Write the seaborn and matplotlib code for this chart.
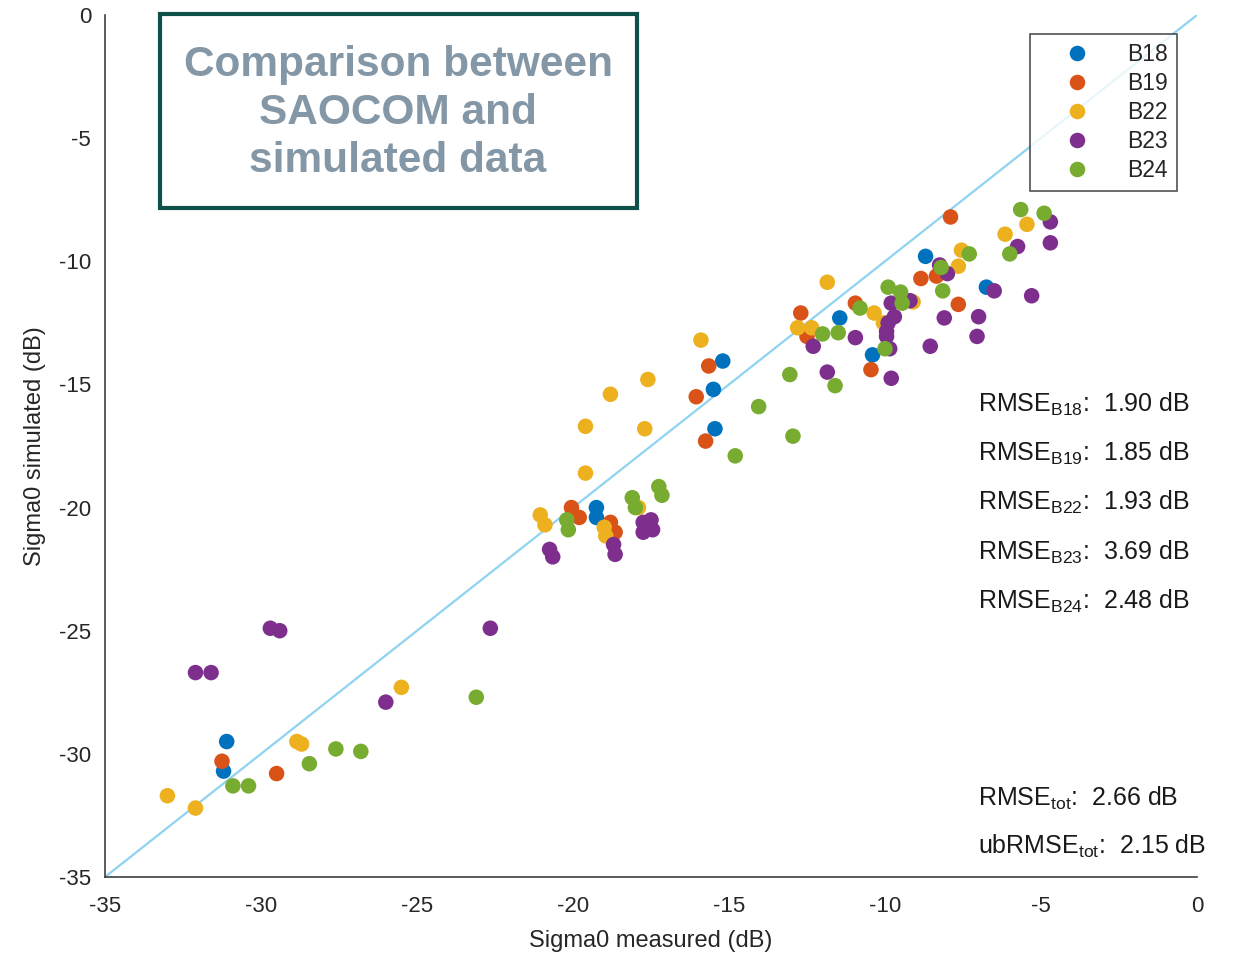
import numpy as np
import pandas as pd
import matplotlib
matplotlib.use("Agg")
import matplotlib.pyplot as plt
from matplotlib.patches import Rectangle
import seaborn as sns

# values (dB)
b18_meas = [-31.1, -31.2, -15.2, -15.5, -15.45, -19.25, -19.25, -11.45, -10.4, -8.7, -6.75]
b18_sim = [-29.5, -30.7, -14.05, -15.2, -16.8, -20.0, -20.4, -12.3, -13.8, -9.8, -11.05]

b19_meas = [-31.25, -29.5, -15.65, -16.05, -15.75, -20.05, -19.8, -18.8, -18.65, -7.9,
            -8.85, -8.35, -7.65, -12.7, -12.5, -10.95, -10.45]
b19_sim = [-30.3, -30.8, -14.25, -15.5, -17.3, -20.0, -20.4, -20.6, -21.0, -8.2,
           -10.7, -10.6, -11.75, -12.1, -13.05, -11.7, -14.4]

b22_meas = [-33.0, -32.1, -28.85, -28.7, -25.5, -15.9, -17.6, -18.8, -19.6, -17.7, -19.6,
            -21.05, -20.9, -19.0, -18.95, -17.9, -5.45, -6.15, -7.55, -7.65, -11.85,
            -12.8, -12.35, -10.35, -9.1, -10.05]
b22_sim = [-31.7, -32.2, -29.5, -29.6, -27.3, -13.2, -14.8, -15.4, -16.7, -16.8, -18.6,
           -20.3, -20.7, -20.8, -21.15, -20.0, -8.5, -8.9, -9.55, -10.2, -10.85,
           -12.7, -12.7, -12.1, -11.65, -12.5]

b23_meas = [-29.7, -29.4, -32.1, -31.6, -22.65, -26.0, -17.75, -17.5, -17.75, -17.45,
            -18.7, -18.65, -20.75, -20.65, -4.7, -4.7, -5.75, -8.25, -8.0, -6.5, -5.3,
            -7.0, -7.05, -8.1, -8.55, -12.3, -10.95, -9.8, -9.2, -9.7, -9.9, -9.95,
            -9.95, -9.85, -9.8, -11.85]
b23_sim = [-24.9, -25.0, -26.7, -26.7, -24.9, -27.9, -20.6, -20.5, -21.0, -20.9,
           -21.5, -21.9, -21.7, -22.0, -8.4, -9.25, -9.4, -10.15, -10.5, -11.2, -11.4,
           -12.25, -13.05, -12.3, -13.45, -13.45, -13.1, -11.7, -11.6, -12.25, -12.5, -12.85,
           -13.05, -13.55, -14.75, -14.5]

b24_meas = [-23.1, -27.6, -26.8, -28.45, -30.9, -30.4, -14.05, -13.05, -12.95, -14.8,
            -17.25, -17.15, -18.1, -18.0, -20.2, -20.15, -5.65, -4.9, -6.0, -7.3, -8.2,
            -8.15, -12.0, -11.5, -10.8, -9.9, -9.5, -9.45, -10.0, -11.6]
b24_sim = [-27.7, -29.8, -29.9, -30.4, -31.3, -31.3, -15.9, -14.6, -17.1, -17.9,
           -19.15, -19.5, -19.6, -20.0, -20.5, -20.9, -7.9, -8.05, -9.7, -9.7, -10.25,
           -11.2, -12.95, -12.9, -11.9, -11.05, -11.25, -11.7, -13.55, -15.05]

groups = ["B18", "B19", "B22", "B23", "B24"]
rmse_vals = ["1.90", "1.85", "1.93", "3.69", "2.48"]
rmse_tot = "2.66"
ubrmse_tot = "2.15"

colors = ["#0072BD", "#D95319", "#EDB120", "#7E2F8E", "#77AC30"]

frames = []
for g, xm, ys in zip(groups,
                     [b18_meas, b19_meas, b22_meas, b23_meas, b24_meas],
                     [b18_sim, b19_sim, b22_sim, b23_sim, b24_sim]):
    frames.append(pd.DataFrame({"measured": xm, "simulated": ys, "site": g}))
df = pd.concat(frames, ignore_index=True)

sns.set_style("white")
plt.rcParams['font.family'] = ['Liberation Sans', 'DejaVu Sans']
plt.rcParams['mathtext.fontset'] = 'custom'
plt.rcParams['mathtext.rm'] = 'Liberation Sans'
plt.rcParams['mathtext.it'] = 'Liberation Sans'
plt.rcParams['axes.unicode_minus'] = False

W, H = 1243, 956
fig = plt.figure(figsize=(W / 100, H / 100), dpi=100)
ax = fig.add_axes([105 / W, 1 - 877 / H, 1092 / W, 862 / H])

# 1:1 line
ax.plot([-35, 0], [-35, 0], color="#8ED3F0", lw=1.6, zorder=1)

sns.scatterplot(data=df, x="measured", y="simulated", hue="site", hue_order=groups,
                palette=colors, s=125, linewidth=0, ax=ax, zorder=2)

ax.set_xlim(-35, 0)
ax.set_ylim(-35, 0)
ax.set_xticks(np.arange(-35, 1, 5))
ax.set_yticks(np.arange(-35, 1, 5))
for sp in ["top", "right"]:
    ax.spines[sp].set_visible(False)
for sp in ["left", "bottom"]:
    ax.spines[sp].set_color("#404040")
    ax.spines[sp].set_linewidth(1.2)
ax.tick_params(direction="in", length=9, width=1.2, color="#404040",
               labelsize=16, labelcolor="#262626", pad=10)
ax.tick_params(axis="x", pad=14)
ax.set_xlabel("Sigma0 measured (dB)", fontsize=17, color="#262626", labelpad=9)
ax.set_ylabel("Sigma0 simulated (dB)", fontsize=17, color="#262626", labelpad=9)

leg = ax.legend(loc="upper right", bbox_to_anchor=(0.9817, 0.978), frameon=True,
                fancybox=False, edgecolor="#262626", fontsize=16.5, handletextpad=0.55,
                labelspacing=0.26, borderpad=0.4, handlelength=3.3, borderaxespad=0)
leg.get_frame().set_linewidth(1.2)

# RMSE annotations (pixel positions converted to figure fractions)
for i, (g, v) in enumerate(zip(groups, rmse_vals)):
    fig.text(978 / W, 1 - (404 + i * 49.3) / H, r"RMSE$_{\mathrm{%s}}$:  %s dB" % (g, v),
             fontsize=18, color="#1a1a1a", va="center", ha="left")
fig.text(978 / W, 1 - 798 / H, r"RMSE$_{\mathrm{tot}}$:  %s dB" % rmse_tot,
         fontsize=18, color="#1a1a1a", va="center", ha="left")
fig.text(978 / W, 1 - 846 / H, r"ubRMSE$_{\mathrm{tot}}$:  %s dB" % ubrmse_tot,
         fontsize=18, color="#1a1a1a", va="center", ha="left")

# title box
fig.patches.append(Rectangle((160 / W, 1 - 208 / H), 477 / W, 194 / H,
                             transform=fig.transFigure, facecolor="white",
                             edgecolor="#0F5048", linewidth=3, zorder=5))
fig.text(398 / W, 1 - 113 / H, "Comparison between\nSAOCOM and\nsimulated data",
         ha="center", va="center", fontsize=30.5, fontweight="bold", color="#8497A6",
         linespacing=1.25, zorder=6)

fig.savefig("out.png", dpi=100)
